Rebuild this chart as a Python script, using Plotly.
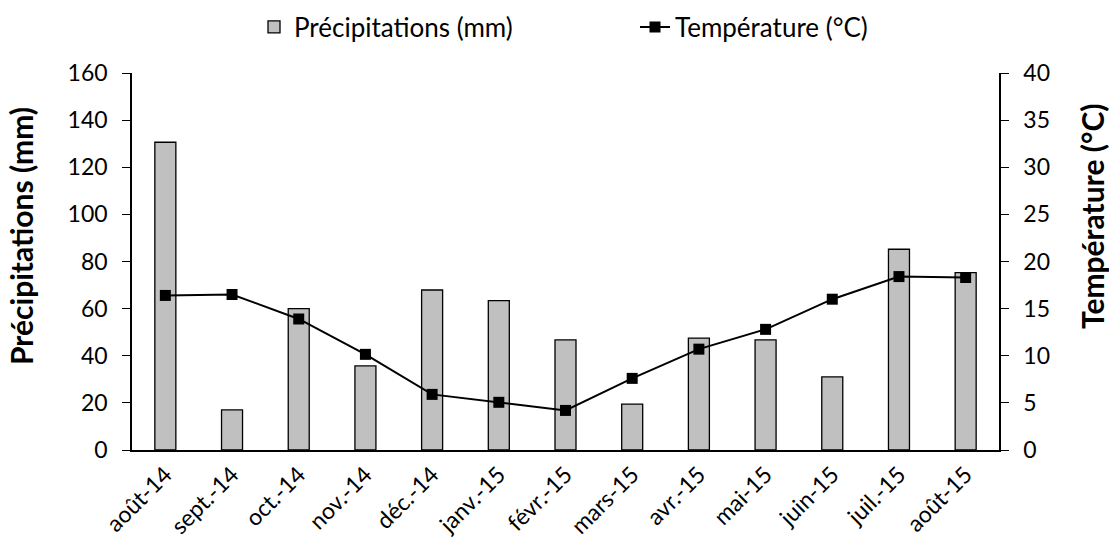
import plotly.graph_objects as go

months = ["août-14", "sept.-14", "oct.-14", "nov.-14", "déc.-14", "janv.-15", "févr.-15",
          "mars-15", "avr.-15", "mai-15", "juin-15", "juil.-15", "août-15"]
precip = [130.6, 17.0, 60.0, 35.7, 67.9, 63.4, 46.7, 19.5, 47.5, 46.7, 31.0, 85.2, 75.3]
temp = [16.4, 16.5, 13.9, 10.15, 5.9, 5.06, 4.2, 7.6, 10.7, 12.8, 16.0, 18.4, 18.3]

FONT = "Lato, 'Open Sans', sans-serif"

W, H = 1109, 559
L, R, T, B = 132, 110, 10, 109
plot_top_px = 73
plot_h = H - T - B
dom_top = (H - B - plot_top_px) / plot_h

fig = go.Figure()
fig.add_trace(go.Bar(
    x=months, y=precip, name="Précipitations (mm)",
    marker=dict(color="#c0c0c0", line=dict(color="black", width=1.3)),
))
fig.add_trace(go.Scatter(
    x=months, y=temp, name="Température (°C)", yaxis="y2",
    mode="lines+markers",
    line=dict(color="black", width=2),
    marker=dict(symbol="square", size=11, color="black"),
))

def px_to_paper_x(px):
    return (px - L) / (W - L - R)

def px_to_paper_y(py):
    return (H - B - py) / plot_h

fig.update_layout(
    width=W, height=H,
    margin=dict(l=L, r=R, t=T, b=B, autoexpand=False),
    paper_bgcolor="white", plot_bgcolor="white",
    font=dict(family=FONT, size=23, color="black"),
    bargap=0.685,
    showlegend=True,
    legend=dict(orientation="h", x=px_to_paper_x(254), xanchor="left",
                y=px_to_paper_y(27), yanchor="middle",
                font=dict(size=26), traceorder="normal", entrywidth=336,
                bgcolor="rgba(0,0,0,0)"),
    xaxis=dict(
        range=[-0.5, len(months) - 0.5],
        showline=True, linecolor="black", linewidth=2,
        ticks="", tickangle=-45, tickfont=dict(size=23),
        showgrid=False, automargin=False,
    ),
    yaxis=dict(
        domain=[0, dom_top],
        range=[0, 160], dtick=20, showline=True, linecolor="black", linewidth=1.5,
        ticks="outside", ticklen=8, tickcolor="black", showgrid=False, zeroline=False,
        tickfont=dict(size=23), ticklabelstandoff=10, automargin=False,
    ),
    yaxis2=dict(
        range=[0, 40], dtick=5, overlaying="y", side="right",
        showline=True, linecolor="black", linewidth=1.5,
        ticks="outside", ticklen=8, tickcolor="black", showgrid=False, zeroline=False,
        tickfont=dict(size=23), ticklabelstandoff=10, automargin=False,
    ),
    annotations=[
        dict(text="<b>Précipitations (mm)</b>", textangle=-90, showarrow=False,
             xref="paper", yref="paper", x=px_to_paper_x(21), y=px_to_paper_y(236),
             xanchor="center", yanchor="middle", font=dict(size=30)),
        dict(text="<b>Température (°C)</b>", textangle=-90, showarrow=False,
             xref="paper", yref="paper", x=px_to_paper_x(1092), y=px_to_paper_y(216),
             xanchor="center", yanchor="middle", font=dict(size=30)),
    ],
)

fig.write_html("out.html", post_script="document.body.style.margin='0';",
               config={"displayModeBar": False})
